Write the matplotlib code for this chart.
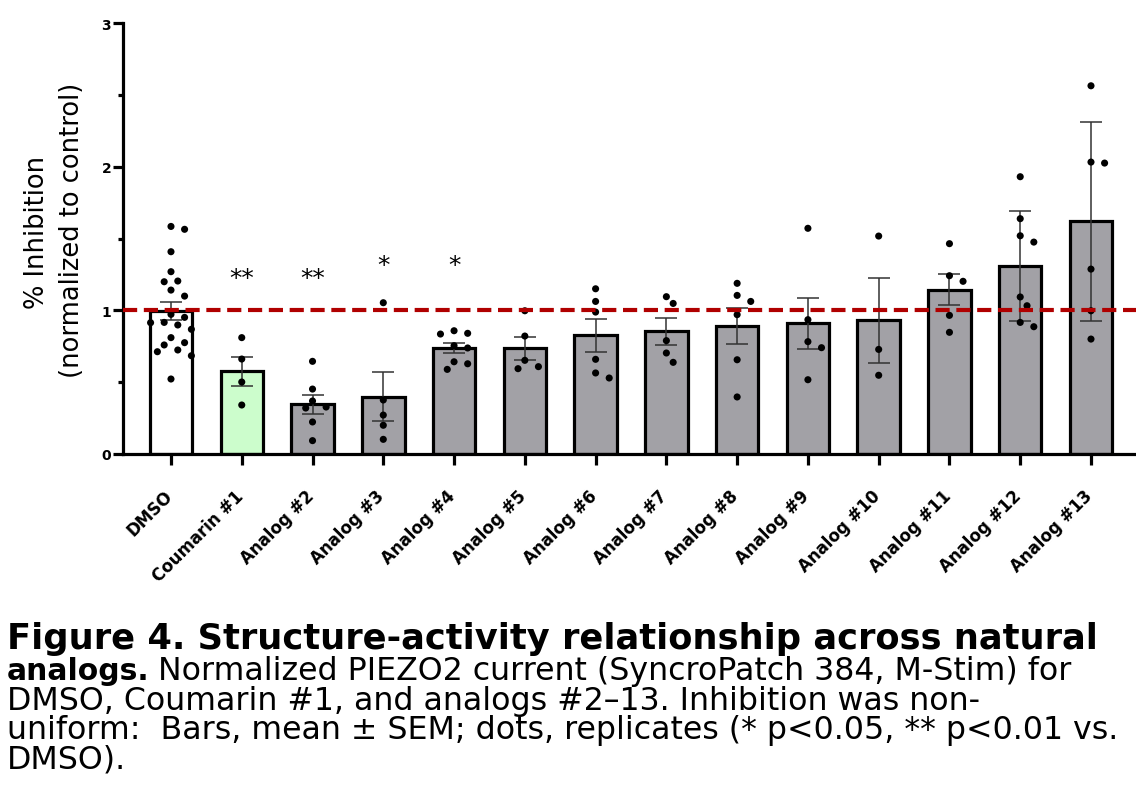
import numpy as np
import matplotlib
matplotlib.use("Agg")
import matplotlib.pyplot as plt
from matplotlib import transforms

# ---------------- data ----------------
categories = ["DMSO", "Coumarin #1", "Analog #2", "Analog #3", "Analog #4",
              "Analog #5", "Analog #6", "Analog #7", "Analog #8", "Analog #9",
              "Analog #10", "Analog #11", "Analog #12", "Analog #13"]

means = [0.995, 0.575, 0.345, 0.40, 0.735, 0.735, 0.825, 0.855, 0.893,
         0.910, 0.931, 1.144, 1.311, 1.62]
sems = [0.064, 0.103, 0.068, 0.168, 0.035, 0.079, 0.112, 0.093, 0.125,
        0.178, 0.296, 0.109, 0.383, 0.692]

dmso_vals = [1.564, 1.584, 1.408, 1.269, 1.199, 1.204, 1.141, 1.099, 0.972,
             0.914, 0.916, 0.951, 0.898, 0.868, 0.810, 0.759, 0.775, 0.712,
             0.684, 0.724, 0.522]
coumarin1_vals = [0.810, 0.661, 0.501, 0.341]
analog2_vals = [0.645, 0.452, 0.369, 0.320, 0.327, 0.223, 0.093]
analog3_vals = [1.053, 0.376, 0.271, 0.200, 0.102]
analog4_vals = [0.858, 0.835, 0.840, 0.754, 0.738, 0.589, 0.642, 0.628]
analog5_vals = [0.997, 0.821, 0.652, 0.608, 0.594]
analog6_vals = [1.150, 1.062, 0.988, 0.659, 0.529, 0.564]
analog7_vals = [1.095, 1.048, 0.789, 0.703, 0.638]
analog8_vals = [1.188, 1.104, 1.062, 0.970, 0.656, 0.397]
analog9_vals = [1.571, 0.935, 0.782, 0.740, 0.517]
analog10_vals = [1.517, 0.728, 0.548]
analog11_vals = [1.464, 1.202, 1.241, 0.965, 0.847]
analog12_vals = [1.930, 1.638, 1.519, 1.475, 1.093, 1.032, 0.886, 0.916]
analog13_vals = [2.563, 2.032, 2.025, 1.287, 0.997, 0.800]

replicates = [dmso_vals, coumarin1_vals, analog2_vals, analog3_vals,
              analog4_vals, analog5_vals, analog6_vals, analog7_vals,
              analog8_vals, analog9_vals, analog10_vals, analog11_vals,
              analog12_vals, analog13_vals]

significance = ["", "**", "**", "*", "*", "", "", "", "", "", "", "", "", ""]
control_level = 1.0

yticks = [0, 1, 2, 3]
ytick_labels = ["0", "1", "2", "3"]

# ---------------- styling ----------------
W, H, DPI = 1136, 803, 100
FONT = "DejaVu Sans"
plt.rcParams["font.family"] = [FONT]
bar_colors = ["#ffffff", "#ccfdcc"] + ["#a2a1a6"] * 12

fig = plt.figure(figsize=(W / DPI, H / DPI), dpi=DPI)
ax_left, ax_right, ax_top, ax_bottom = 123, 1136, 24, 455
ax = fig.add_axes([ax_left / W, 1 - ax_bottom / H,
                   (ax_right - ax_left) / W, (ax_bottom - ax_top) / H])

x = np.arange(len(categories))
XMIN, XMAX = -0.678, 13.636
ax.set_xlim(XMIN, XMAX)
ax.set_ylim(0, 3)

ax.bar(x, means, width=0.6, color=bar_colors, edgecolor="black",
       linewidth=2.3, zorder=2)
ax.errorbar(x, means, yerr=sems, fmt="none", ecolor="#333333",
            elinewidth=1.1, capsize=8, capthick=1.1, zorder=3)

# beeswarm-like placement of replicate dots
px_per_x = (ax_right - ax_left) / (XMAX - XMIN)
px_per_y = (ax_bottom - ax_top) / 3.0


def swarm_offsets(vals, step_px=6.8, dmin_px=9.5):
    vals = np.asarray(vals, dtype=float)
    order = np.argsort(-vals)
    placed = []
    offs = np.zeros(len(vals))
    cands = [0.0]
    for k in range(1, 6):
        cands += [k * step_px, -k * step_px]
    for i in order:
        yp = vals[i] * px_per_y
        chosen = cands[-1]
        for c in cands:
            if all((c - a) ** 2 + (yp - b) ** 2 >= dmin_px ** 2 for a, b in placed):
                chosen = c
                break
        placed.append((chosen, yp))
        offs[i] = chosen / px_per_x
    return offs


for i, vals in enumerate(replicates):
    offs = swarm_offsets(vals)
    ax.scatter(x[i] + offs, vals, s=26, color="black", edgecolors="none",
               zorder=4)

ax.axhline(control_level, color="#b00000", lw=3.0, ls=(0, (3.4, 1.6)),
           zorder=5)

# significance stars
for i, s in enumerate(significance):
    if s:
        ylev = 1.178 if s == "**" else 1.265
        ax.text(x[i], ylev, s, ha="center", va="baseline", fontsize=18,
                zorder=6)

# axes styling
for side in ("top", "right"):
    ax.spines[side].set_visible(False)
for side in ("left", "bottom"):
    ax.spines[side].set_linewidth(2.3)

ax.set_yticks(yticks)
ax.set_yticklabels(ytick_labels, fontsize=10, fontweight="bold")
ax.set_yticks([0.5, 1.5, 2.5], minor=True)
ax.tick_params(axis="y", which="major", length=7, width=2.3, pad=1.5)
ax.tick_params(axis="y", which="minor", length=3.6, width=2.3)
ax.set_xticks(x)
ax.set_xticklabels(categories, rotation=45, ha="right", va="center",
                   rotation_mode="anchor", fontsize=12, fontweight="bold")
ax.tick_params(axis="x", which="major", length=8, width=2.3, pad=20)
ax.tick_params(axis="x", which="minor", length=0)
shift = transforms.ScaledTranslation(-1 / 72, 0, fig.dpi_scale_trans)
for lab in ax.get_xticklabels():
    lab.set_transform(lab.get_transform() + shift)

# y label (two lines)
fig.text(37 / W, 1 - 232 / H, "% Inhibition", rotation=90, ha="center",
         va="center", fontsize=18.5)
fig.text(72 / W, 1 - 230 / H, "(normalized to control)", rotation=90,
         ha="center", va="center", fontsize=18.5)

# caption
fig.text(7 / W, 1 - 649 / H,
         "Figure 4. Structure-activity relationship across natural",
         fontsize=25.4, fontweight="bold", va="baseline")
t_bold = fig.text(7 / W, 1 - 680 / H, "analogs.", fontsize=21.5,
                  fontweight="bold", va="baseline")
renderer = fig.canvas.get_renderer()
bb = t_bold.get_window_extent(renderer)
fig.text((bb.x1 + 8) / W, 1 - 680 / H,
         "Normalized PIEZO2 current (SyncroPatch 384, M-Stim) for",
         fontsize=22.8, va="baseline")
body_lines = ["DMSO, Coumarin #1, and analogs #2\u201313. Inhibition was non-",
              "uniform:  Bars, mean \u00b1 SEM; dots, replicates (* p<0.05, ** p<0.01 vs.",
              "DMSO)."]
for k, line in enumerate(body_lines):
    fig.text(7 / W, 1 - (710 + 29.5 * k) / H, line, fontsize=22.8,
             va="baseline")

fig.savefig("out.png", dpi=DPI)
